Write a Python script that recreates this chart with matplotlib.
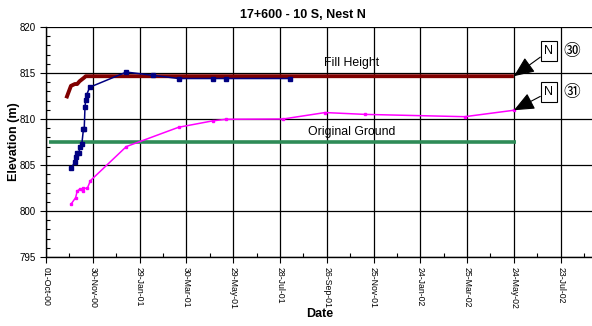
import matplotlib
matplotlib.use('Agg')
import matplotlib.pyplot as plt
import matplotlib.dates as mdates
import numpy as np

plt.rcParams['font.family'] = ['Liberation Sans', 'Noto Sans CJK JP', 'DejaVu Sans']

# fill height (piezometer nest, dark red)
fill_dates = ['2000-10-27', '2000-11-02', '2000-11-07', '2000-11-10', '2000-11-13',
              '2000-11-19', '2000-11-21', '2002-05-24']
fill_elev = [812.25, 813.6, 813.8, 813.8, 814.1, 814.5, 814.65, 814.65]

# piezometer N30 (navy)
n30_dates = ['2000-11-02', '2000-11-07', '2000-11-08', '2000-11-10', '2000-11-12',
             '2000-11-14', '2000-11-16', '2000-11-18', '2000-11-19', '2000-11-20',
             '2000-11-21', '2000-11-22', '2000-11-26', '2001-01-12', '2001-02-15',
             '2001-03-20', '2001-05-03', '2001-05-20', '2001-08-10']
n30_elev = [804.65, 805.3, 805.9, 806.3, 806.3, 807.0, 807.3, 808.9, 808.9, 811.3,
            812.1, 812.6, 813.45, 815.1, 814.75, 814.4, 814.4, 814.4, 814.4]

# piezometer N31 (magenta)
n31_dates = ['2000-11-02', '2000-11-08', '2000-11-10', '2000-11-13', '2000-11-17',
             '2000-11-18', '2000-11-23', '2000-11-27', '2001-01-12', '2001-03-20',
             '2001-05-03', '2001-05-20', '2001-08-01', '2001-09-24', '2001-11-14',
             '2002-03-22', '2002-05-24']
n31_elev = [800.73, 801.45, 802.17, 802.36, 802.17, 802.47, 802.47, 803.3, 807.0,
            809.1, 809.8, 809.97, 810.0, 810.7, 810.5, 810.25, 810.95]

# original ground
og_dates = ['2000-10-05', '2002-05-27']
og_elev = [807.47, 807.47]

tick_dates = ['2000-10-01', '2000-11-30', '2001-01-29', '2001-03-30', '2001-05-29',
              '2001-07-28', '2001-09-26', '2001-11-25', '2002-01-24', '2002-03-25',
              '2002-05-24', '2002-07-23']


def d(lst):
    return mdates.datestr2num(lst)


fig = plt.figure(figsize=(5.92, 3.26), dpi=100)
ax = fig.add_axes([0.0777, 0.2117, 0.9484, 0.7055])

ax.plot(d(og_dates), og_elev, color='#2e8b57', lw=2.6, solid_capstyle='butt', zorder=3)
ax.plot(d(fill_dates), fill_elev, color='#800000', lw=2.8, solid_capstyle='butt', zorder=4)
ax.plot(d(n30_dates), n30_elev, color='#000080', lw=1.1, marker='s', ms=2.2, zorder=5)
ax.plot(d(n31_dates), n31_elev, color='#ff00ff', lw=1.1, marker='s', ms=2.0, zorder=5)

x0 = mdates.datestr2num('2000-10-01')
ax.set_xlim(x0, x0 + 720)
ax.set_ylim(795, 820)

ticks = d(tick_dates)
ax.xaxis.set_major_locator(matplotlib.ticker.FixedLocator(ticks))
ax.xaxis.set_minor_locator(matplotlib.ticker.FixedLocator(
    np.arange(ticks[0] + 30, x0 + 720, 60)))
ax.xaxis.set_major_formatter(mdates.DateFormatter('%d-%b-%y'))
ax.yaxis.set_major_locator(matplotlib.ticker.MultipleLocator(5))
ax.yaxis.set_minor_locator(matplotlib.ticker.MultipleLocator(1))
ax.grid(True, which='major', color='black', lw=0.9)
ax.set_axisbelow(True)

for lab in ax.get_xticklabels():
    lab.set_rotation(-90)
ax.tick_params(axis='x', which='major', labelsize=6.3, direction='out', length=4, width=0.8)
ax.tick_params(axis='y', which='major', labelsize=7, direction='out', length=4, width=0.8)
ax.tick_params(axis='both', which='minor', direction='in', length=3, width=0.8)
for s in ['top', 'right']:
    ax.spines[s].set_visible(False)
ax.spines['left'].set_linewidth(1.0)
ax.spines['bottom'].set_linewidth(1.0)

ax.set_ylabel('Elevation (m)', fontsize=9, fontweight='bold', labelpad=-0.5)
fig.text(0.54, 0.028, 'Date', fontsize=9, fontweight='bold', ha='center')
fig.text(0.512, 0.945, '17+600 - 10 S, Nest N', fontsize=9, fontweight='bold', ha='center')

ax.text(mdates.datestr2num('2001-10-28'), 816.1, 'Fill Height', fontsize=8.8,
        ha='center', va='center')
ax.text(mdates.datestr2num('2001-10-28'), 808.6, 'Original Ground', fontsize=8.8,
        ha='center', va='center')

arrow = dict(arrowstyle='-|>,head_length=1.4,head_width=0.6', color='black', lw=0.8,
             shrinkA=0, shrinkB=0)
box = dict(boxstyle='square,pad=0.3', fc='white', ec='black', lw=0.8)
ax.annotate('N', xy=(d(fill_dates)[-1], fill_elev[-1]),
            xytext=(mdates.datestr2num('2002-07-08'), 817.4), fontsize=9,
            ha='center', va='center', bbox=box, arrowprops=arrow, zorder=6)
ax.annotate('N', xy=(d(n31_dates)[-1], n31_elev[-1]),
            xytext=(mdates.datestr2num('2002-07-08'), 812.95), fontsize=9,
            ha='center', va='center', bbox=box, arrowprops=arrow, zorder=6)
ax.text(mdates.datestr2num('2002-08-06'), 817.3, '\u325a', fontsize=12,
        ha='center', va='center', family=['Noto Sans CJK JP', 'DejaVu Sans'])
ax.text(mdates.datestr2num('2002-08-06'), 812.9, '\u325b', fontsize=12,
        ha='center', va='center', family=['Noto Sans CJK JP', 'DejaVu Sans'])

fig.savefig('out.png', dpi=100)
